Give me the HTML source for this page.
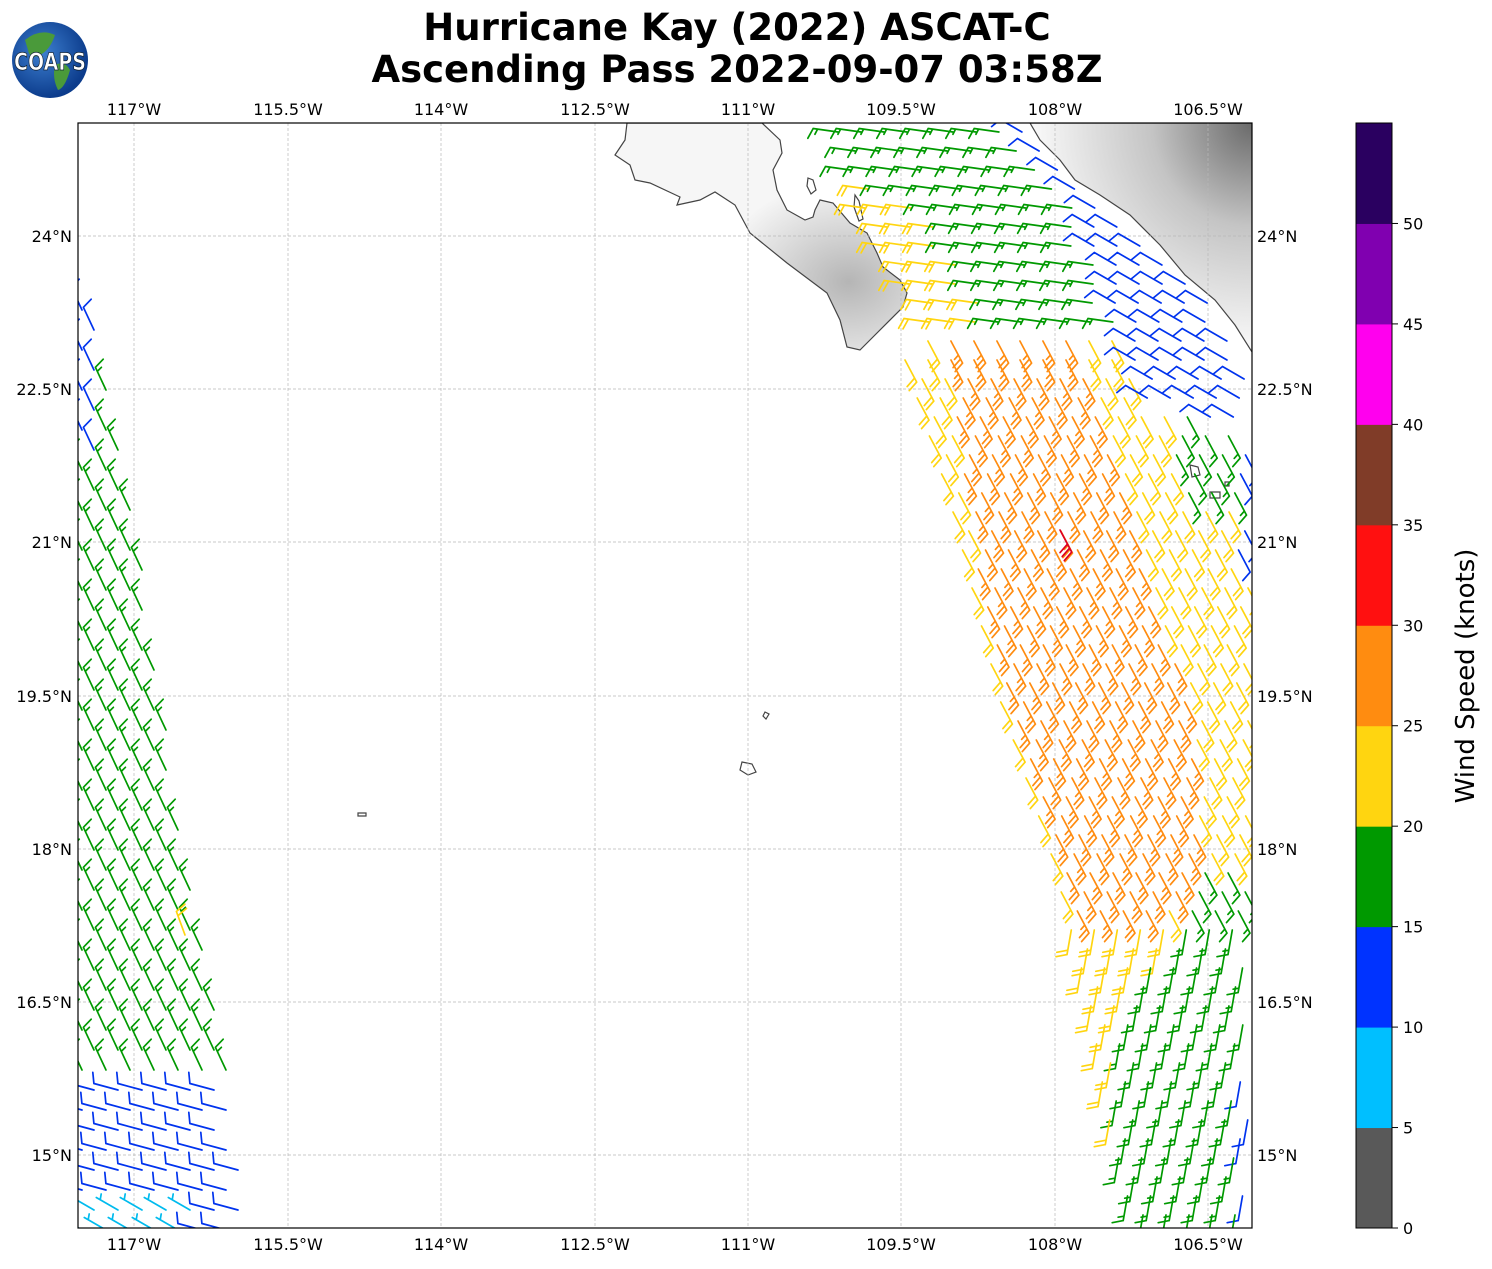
<!DOCTYPE html>
<html><head><meta charset="utf-8">
<style>
body{margin:0;background:#fff;width:1492px;height:1264px;overflow:hidden;font-family:"Liberation Sans",sans-serif}
svg text{font-family:"DejaVu Sans","Liberation Sans",sans-serif}
</style></head><body>
<svg id="s" width="1492" height="1264" xmlns="http://www.w3.org/2000/svg">
<defs>
<clipPath id="mc"><rect x="78" y="123" width="1174" height="1105"/></clipPath>
<radialGradient id="land" cx="1" cy="0" r="1">
<stop offset="0" stop-color="#6a6a6a"/><stop offset="0.45" stop-color="#c4c4c4"/><stop offset="1" stop-color="#fafafa"/></radialGradient>
<radialGradient id="baja" cx="0.8" cy="0.7" r="0.45">
<stop offset="0" stop-color="#b5b5b5"/><stop offset="1" stop-color="#f6f6f6"/></radialGradient>
<radialGradient id="globe" cx="0.4" cy="0.4" r="0.6"><stop offset="0" stop-color="#3d7fd0"/><stop offset="1" stop-color="#0c3c8c"/></radialGradient>
</defs>
<text x="737" y="40" font-size="37" font-weight="bold" text-anchor="middle">Hurricane Kay (2022) ASCAT-C</text>
<text x="737" y="82" font-size="37" font-weight="bold" text-anchor="middle">Ascending Pass 2022-09-07 03:58Z</text>
<circle cx="50" cy="60" r="38" fill="url(#globe)"/>
<path d="M25 40 Q40 28 55 35 Q50 50 40 55 Q30 60 28 50Z M55 65 Q65 60 70 70 Q65 88 58 90 Q52 78 55 65Z" fill="#4a9a3a"/>
<text x="50" y="70" font-size="24" font-weight="bold" fill="#fff" stroke="#123" stroke-width="0.8" text-anchor="middle" textLength="72" lengthAdjust="spacingAndGlyphs">COAPS</text>
<g clip-path="url(#mc)">
<path d="M1030 123 L1040 140 L1060 160 L1075 180 L1100 195 L1130 215 L1160 245 L1185 275 L1215 300 L1235 325 L1252 352 L1252 123Z" fill="url(#land)" stroke="#444" stroke-width="1.2"/>
<path d="M627 123 L625 140 L615 155 L630 165 L635 180 L650 183 L680 197 L677 205 L700 200 L715 192 L735 205 L750 233 L787 263 L827 293 L840 320 L847 347 L860 350 L873 337 L903 307 L907 293 L900 280 L883 267 L877 253 L867 233 L850 223 L833 203 L820 200 L815 210 L813 217 L805 220 L787 210 L777 190 L773 170 L782 153 L780 140 L762 123Z" fill="url(#baja)" stroke="#444" stroke-width="1.2"/>
<path d="M808 178 l5 2 3 10 -5 4 -4 -8Z M855 195 l4 6 4 18 -4 2 -5 -14Z M765 712 l4 2 -3 5 -3 -3Z M742 762 l10 2 4 8 -8 3 -8 -5Z M358 813 l8 0 0 3 -8 0Z M1190 465 l8 2 2 8 -8 2Z M1210 492 l10 0 0 6 -10 0Z M1225 482 l4 0 0 4 -4 0Z" fill="none" stroke="#444" stroke-width="1.2"/>
<g id="grid" stroke="#b8b8b8" stroke-width="0.7" stroke-dasharray="3,2" fill="none"></g>
<g id="barbs" fill="none" stroke-width="1.7" stroke-linecap="round"></g>
</g>
<rect x="78" y="123" width="1174" height="1105" fill="none" stroke="#000" stroke-width="1.2"/>
<g id="ticks" font-size="16"></g>
<g id="cb"></g>
<text transform="translate(1474,676) rotate(-90)" font-size="26" text-anchor="middle">Wind Speed (knots)</text>
</svg>
<script>
var NS="http://www.w3.org/2000/svg";
function el(p,t,a,tx){var e=document.createElementNS(NS,t);for(var k in a)e.setAttribute(k,a[k]);if(tx!==undefined)e.textContent=tx;document.getElementById(p).appendChild(e);return e;}
var lonX=[134,288,441,595,748,901,1055,1208],lonL=["117°W","115.5°W","114°W","112.5°W","111°W","109.5°W","108°W","106.5°W"];
var latY=[236,389,542,696,849,1002,1155],latL=["24°N","22.5°N","21°N","19.5°N","18°N","16.5°N","15°N"];
lonX.forEach(function(x,i){el("grid","line",{x1:x,y1:123,x2:x,y2:1228});
el("ticks","text",{x:x,y:115,"text-anchor":"middle"},lonL[i]);el("ticks","text",{x:x,y:1250,"text-anchor":"middle"},lonL[i]);});
latY.forEach(function(y,i){el("grid","line",{x1:78,y1:y,x2:1252,y2:y});
el("ticks","text",{x:72,y:y+6,"text-anchor":"end"},latL[i]);el("ticks","text",{x:1257,y:y+6},latL[i]);});
var cols=["#595959","#00bfff","#0033ff","#009900","#ffd510","#ff8c10","#ff1010","#803c28","#ff00ee","#8000b0","#2a0060"];
var h=1105/11;
cols.forEach(function(c,i){el("cb","rect",{x:1356,y:1228-(i+1)*h,width:36,height:h+0.5,fill:c});});
el("cb","rect",{x:1356,y:123,width:36,height:1105,fill:"none",stroke:"#000","stroke-width":1});
for(var v=0;v<=50;v+=5){var y=1228-v/5*h;el("cb","line",{x1:1392,y1:y,x2:1398,y2:y,stroke:"#000"});el("cb","text",{x:1403,y:y+6,"font-size":16},v);}
function interp(pts,y){if(y<=pts[0][0])return pts[0][1];for(var i=1;i<pts.length;i++){if(y<=pts[i][0]){var a=pts[i-1],b=pts[i];return a[1]+(b[1]-a[1])*(y-a[0])/(b[0]-a[0]);}}return pts[pts.length-1][1];}
var C={g:"#009900",b:"#0033ee",c:"#00bbee",y:"#ffd510",o:"#ff8c10",r:"#dd0022"};
var SP={g:17,b:12,c:8,y:22,o:27,r:32};
function barb(x,y,col,ang,flip){
 var s=SP[col],a=ang*Math.PI/180,ux=Math.cos(a),uy=Math.sin(a),nx=-uy,ny=ux,L=25;
 if(flip){nx=-nx;ny=-ny;}
 var tx=x+ux*L,ty=y+uy*L,d="M"+x.toFixed(1)+" "+y.toFixed(1)+"L"+tx.toFixed(1)+" "+ty.toFixed(1);
 var full=Math.floor(s/10),half=(s%10)>=5?1:0,p=0;
 for(var i=0;i<full;i++){var bx=tx-ux*p*4.5,by=ty-uy*p*4.5;d+="M"+bx.toFixed(1)+" "+by.toFixed(1)+"l"+(nx*10.5+ux*4).toFixed(1)+" "+(ny*10.5+uy*4).toFixed(1);p++;}
 if(half){if(p==0)p=1;var bx=tx-ux*p*4.5,by=ty-uy*p*4.5;d+="M"+bx.toFixed(1)+" "+by.toFixed(1)+"l"+(nx*5.5+ux*2).toFixed(1)+" "+(ny*5.5+uy*2).toFixed(1);}
 el("barbs","path",{d:d,stroke:C[col]});
}
var xL=[[123,835],[200,860],[320,930],[360,905],[500,950],[700,1000],[850,1050],[1000,1090],[1100,1105],[1228,1135]];
var xR=[[123,1030],[180,1075],[240,1145],[300,1205],[352,1252]];
var orL=[[330,940],[450,960],[600,980],[750,1020],[900,1070]];
var orR=[[330,1060],[400,1100],[500,1125],[600,1150],[700,1190],[800,1200],[880,1190],[930,1140]];
var bl=[[123,990],[200,1075],[300,1110],[400,1135],[420,1200]];
var r=0;
for(var y=132;y<1226;y+=19,r++){
 var l=interp(xL,y),rr=Math.min(1248,interp(xR,y));
 for(var x=l+((r%2)*11);x<=rr;x+=23){
  var col,ang,flip=false;
  if(y<330){ ang=-172;flip=true;
   if(x>interp(bl,y)){col="b";ang=-150;flip=true;}
   else if(x<interp([[180,880],[250,960],[330,1000]],y)&&y>185)col="y"; else col="g"; }
  else if(y<930){ ang=62;
   if(y<420&&x>interp(bl,y)){col="b";ang=-150;flip=true;}
   else if(x>1236&&y<560)col="b";
   else if(x>1172&&y<510)col="g";
   else if(x>=interp(orL,y)&&x<interp(orR,y))col="o";
   else col="y";
   if(y>860&&x>1190)col="g";
  } else { ang=100;
   var gl=interp([[930,1170],[1000,1120],[1100,1110],[1228,1110]],y);
   col=(x>gl)?"g":"y"; if(x>1236&&y>1080)col="b";
  }
  barb(x,y,col,ang,flip);
 }
}
barb(1060,530,"r",62,false);
var wR=[[290,98],[450,128],[700,165],[900,200],[1100,235],[1228,250]];
r=0;
for(var y=292;y<1226;y+=20,r++){
 var rr=interp(wR,y);
 for(var x=82+((r%2)*12);x<=rr;x+=24){
  var col="g",ang=-115;
  if(y<440&&x<100)col="b";
  if(y>1060){col="b";ang=-165;}
  if(y>1180&&x<200){col="c";ang=-150;}
  barb(x,y+18,col,ang,false);
 }
}
barb(185,935,"y",-110,false);
</script>
</body></html>
